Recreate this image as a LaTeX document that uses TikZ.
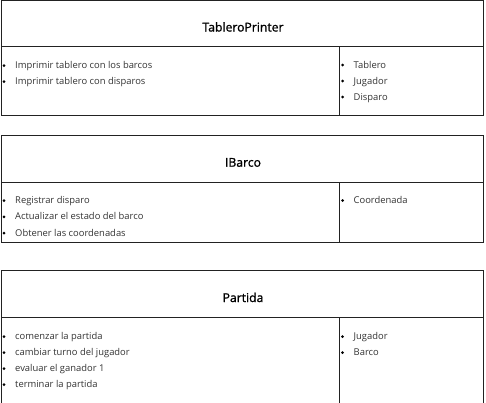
\documentclass[tikz,border=0pt]{standalone}
\usepackage{fontspec}
\setmainfont{Open Sans}
\newfontfamily\titlefont{Open Sans}[FakeBold=1.2]
\definecolor{bodytext}{HTML}{333333}
\definecolor{frame}{HTML}{222222}
\tikzset{
  x=1pt, y=1pt,
  boxline/.style={draw=frame, line width=1pt},
  title/.style={font=\titlefont\fontsize{12.2}{14}\selectfont, text=black, inner sep=0pt, anchor=base},
  item/.style={font=\fontsize{9.4}{11}\selectfont, text=bodytext, inner sep=0pt, anchor=base west},
  dot/.style={circle, fill=black, inner sep=0pt, minimum size=3pt},
}
\newcommand{\bul}[3]{% x, baseline y, text
  \node[dot] at (#1,#2+3) {};
  \node[item] at (#1+11,#2) {#3};
}
\begin{document}
\begin{tikzpicture}
\useasboundingbox (0,0) rectangle (486,-402);

% ---- Box 1: TableroPrinter
\draw[boxline] (1.5,-0.5) rectangle (483.5,-115);
\draw[boxline] (1.5,-46) -- (483.5,-46);
\draw[boxline] (339,-46) -- (339,-115);
\node[title] (t1) at (243,-31.5) {TableroPrinter};
\bul{4}{-68.5}{Imprimir tablero con los barcos}
\bul{4}{-84.5}{Imprimir tablero con disparos}
\bul{342.5}{-68}{Tablero}
\bul{342.5}{-84}{Jugador}
\bul{342.5}{-100}{Disparo}

% ---- Box 2: IBarco
\draw[boxline] (1.5,-135) rectangle (483.5,-242.5);
\draw[boxline] (1.5,-182) -- (483.5,-182);
\draw[boxline] (339,-182) -- (339,-242.5);
\node[title] (t2) at (243,-166.7) {IBarco};
\bul{4}{-203.5}{Registrar disparo}
\bul{4}{-219.8}{Actualizar el estado del barco}
\bul{4}{-236}{Obtener las coordenadas}
\bul{342.5}{-203.5}{Coordenada}

% ---- Box 3: Partida
\draw[boxline] (1.5,-270) rectangle (483.5,-410);
\draw[boxline] (1.5,-317.5) -- (483.5,-317.5);
\draw[boxline] (339,-317.5) -- (339,-410);
\node[title] (t3) at (243,-302) {Partida};
\bul{4}{-339.5}{comenzar la partida}
\bul{4}{-355.5}{cambiar turno del jugador}
\bul{4}{-371.5}{evaluar el ganador 1}
\bul{4}{-387.5}{terminar la partida}
\bul{342.5}{-339.5}{Jugador}
\bul{342.5}{-355.5}{Barco}
\end{tikzpicture}
\end{document}
